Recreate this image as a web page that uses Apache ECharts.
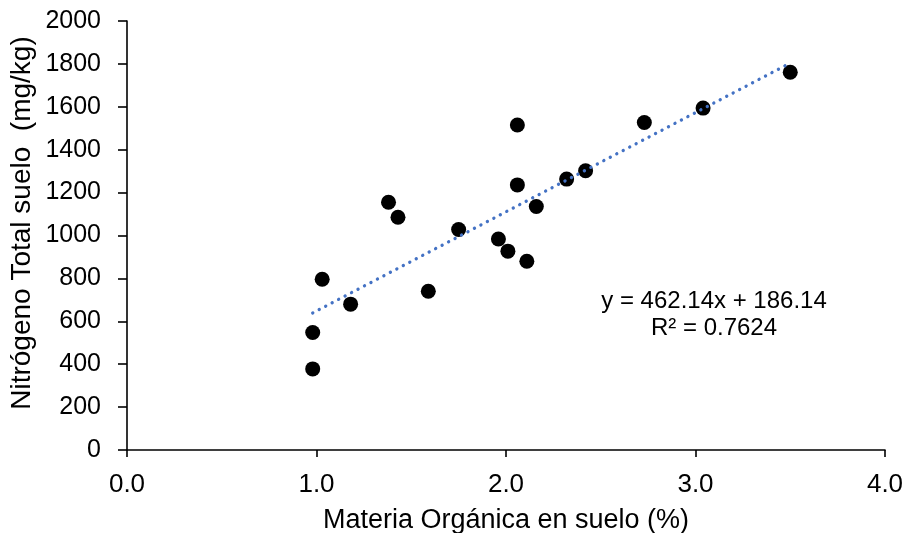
<!DOCTYPE html>
<html>
<head>
<meta charset="utf-8">
<script src="https://cdn.jsdelivr.net/npm/echarts@6/dist/echarts.min.js"></script>
<style>html,body{margin:0;padding:0;background:#fff}#c{width:907px;height:533px}</style>
</head>
<body>
<div id="c"></div>
<script>
// Materia Orgánica (%) values
var materiaOrganica = [0.98, 0.98, 1.03, 1.18, 1.38, 1.43, 1.59, 1.75, 1.96, 2.01, 2.06, 2.06, 2.11, 2.16, 2.32, 2.42, 2.73, 3.04, 3.50];
// Nitrógeno total (mg/kg) values
var nitrogeno = [378, 548, 796, 680, 1155, 1085, 740, 1028, 984, 927, 1515, 1236, 880, 1135, 1263, 1302, 1527, 1594, 1761];
// trend line end points
var trendX = [0.98, 3.50];
var trendY = [639, 1804];
var equationLines = ['y = 462.14x + 186.14', 'R² = 0.7624'];
var xTitle = 'Materia Orgánica en suelo (%)';
var yTitle = 'Nitrógeno Total suelo  (mg/kg)';

var pts = materiaOrganica.map(function (v, i) { return [v, nitrogeno[i]]; });
var trend = trendX.map(function (v, i) { return [v, trendY[i]]; });
var font = 'Arial, "Liberation Sans", sans-serif';

var chart = echarts.init(document.getElementById('c'), null, {renderer: 'canvas'});
chart.setOption({
  animation: false,
  backgroundColor: '#fff',
  grid: {left: 127, right: 22, top: 21, bottom: 83, containLabel: false, outerBoundsMode: 'none'},
  xAxis: {
    type: 'value', min: 0, max: 4, interval: 1,
    name: xTitle, nameLocation: 'middle', nameGap: 57,
    nameTextStyle: {fontFamily: font, fontSize: 27, color: '#000'},
    axisLine: {show: true, lineStyle: {color: '#000', width: 1.6}},
    axisTick: {show: true, inside: false, length: 7, lineStyle: {color: '#000', width: 1.6}},
    axisLabel: {margin: 22, fontFamily: font, fontSize: 26, color: '#000',
      formatter: function (v) { return v.toFixed(1); }},
    splitLine: {show: false}
  },
  yAxis: {
    type: 'value', min: 0, max: 2000, interval: 200,
    axisLine: {show: true, lineStyle: {color: '#000', width: 1.6}},
    axisTick: {show: true, inside: false, length: 9, lineStyle: {color: '#000', width: 1.6}},
    axisLabel: {margin: 26, fontFamily: font, fontSize: 25, color: '#000',
      formatter: function (v) { return String(v); }},
    splitLine: {show: false}
  },
  series: [
    {
      type: 'line', data: trend, symbol: 'none', silent: true, z: 3,
      lineStyle: {color: '#4472C4', width: 3.3, type: [0.1, 7.2], cap: 'round'}
    },
    {
      type: 'scatter', data: pts, symbol: 'circle', symbolSize: 15, z: 2,
      itemStyle: {color: '#000', opacity: 1}
    }
  ],
  graphic: [
    {
      type: 'text', x: 714, y: 288,
      style: {text: equationLines.join('\n'), font: '24px ' + font, fill: '#000',
        align: 'center', verticalAlign: 'top', lineHeight: 27}
    },
    {
      type: 'text', x: 22, y: 223, rotation: Math.PI / 2,
      style: {text: yTitle, font: '28px ' + font, fill: '#000',
        align: 'center', verticalAlign: 'middle'}
    }
  ]
});
</script>
</body>
</html>
